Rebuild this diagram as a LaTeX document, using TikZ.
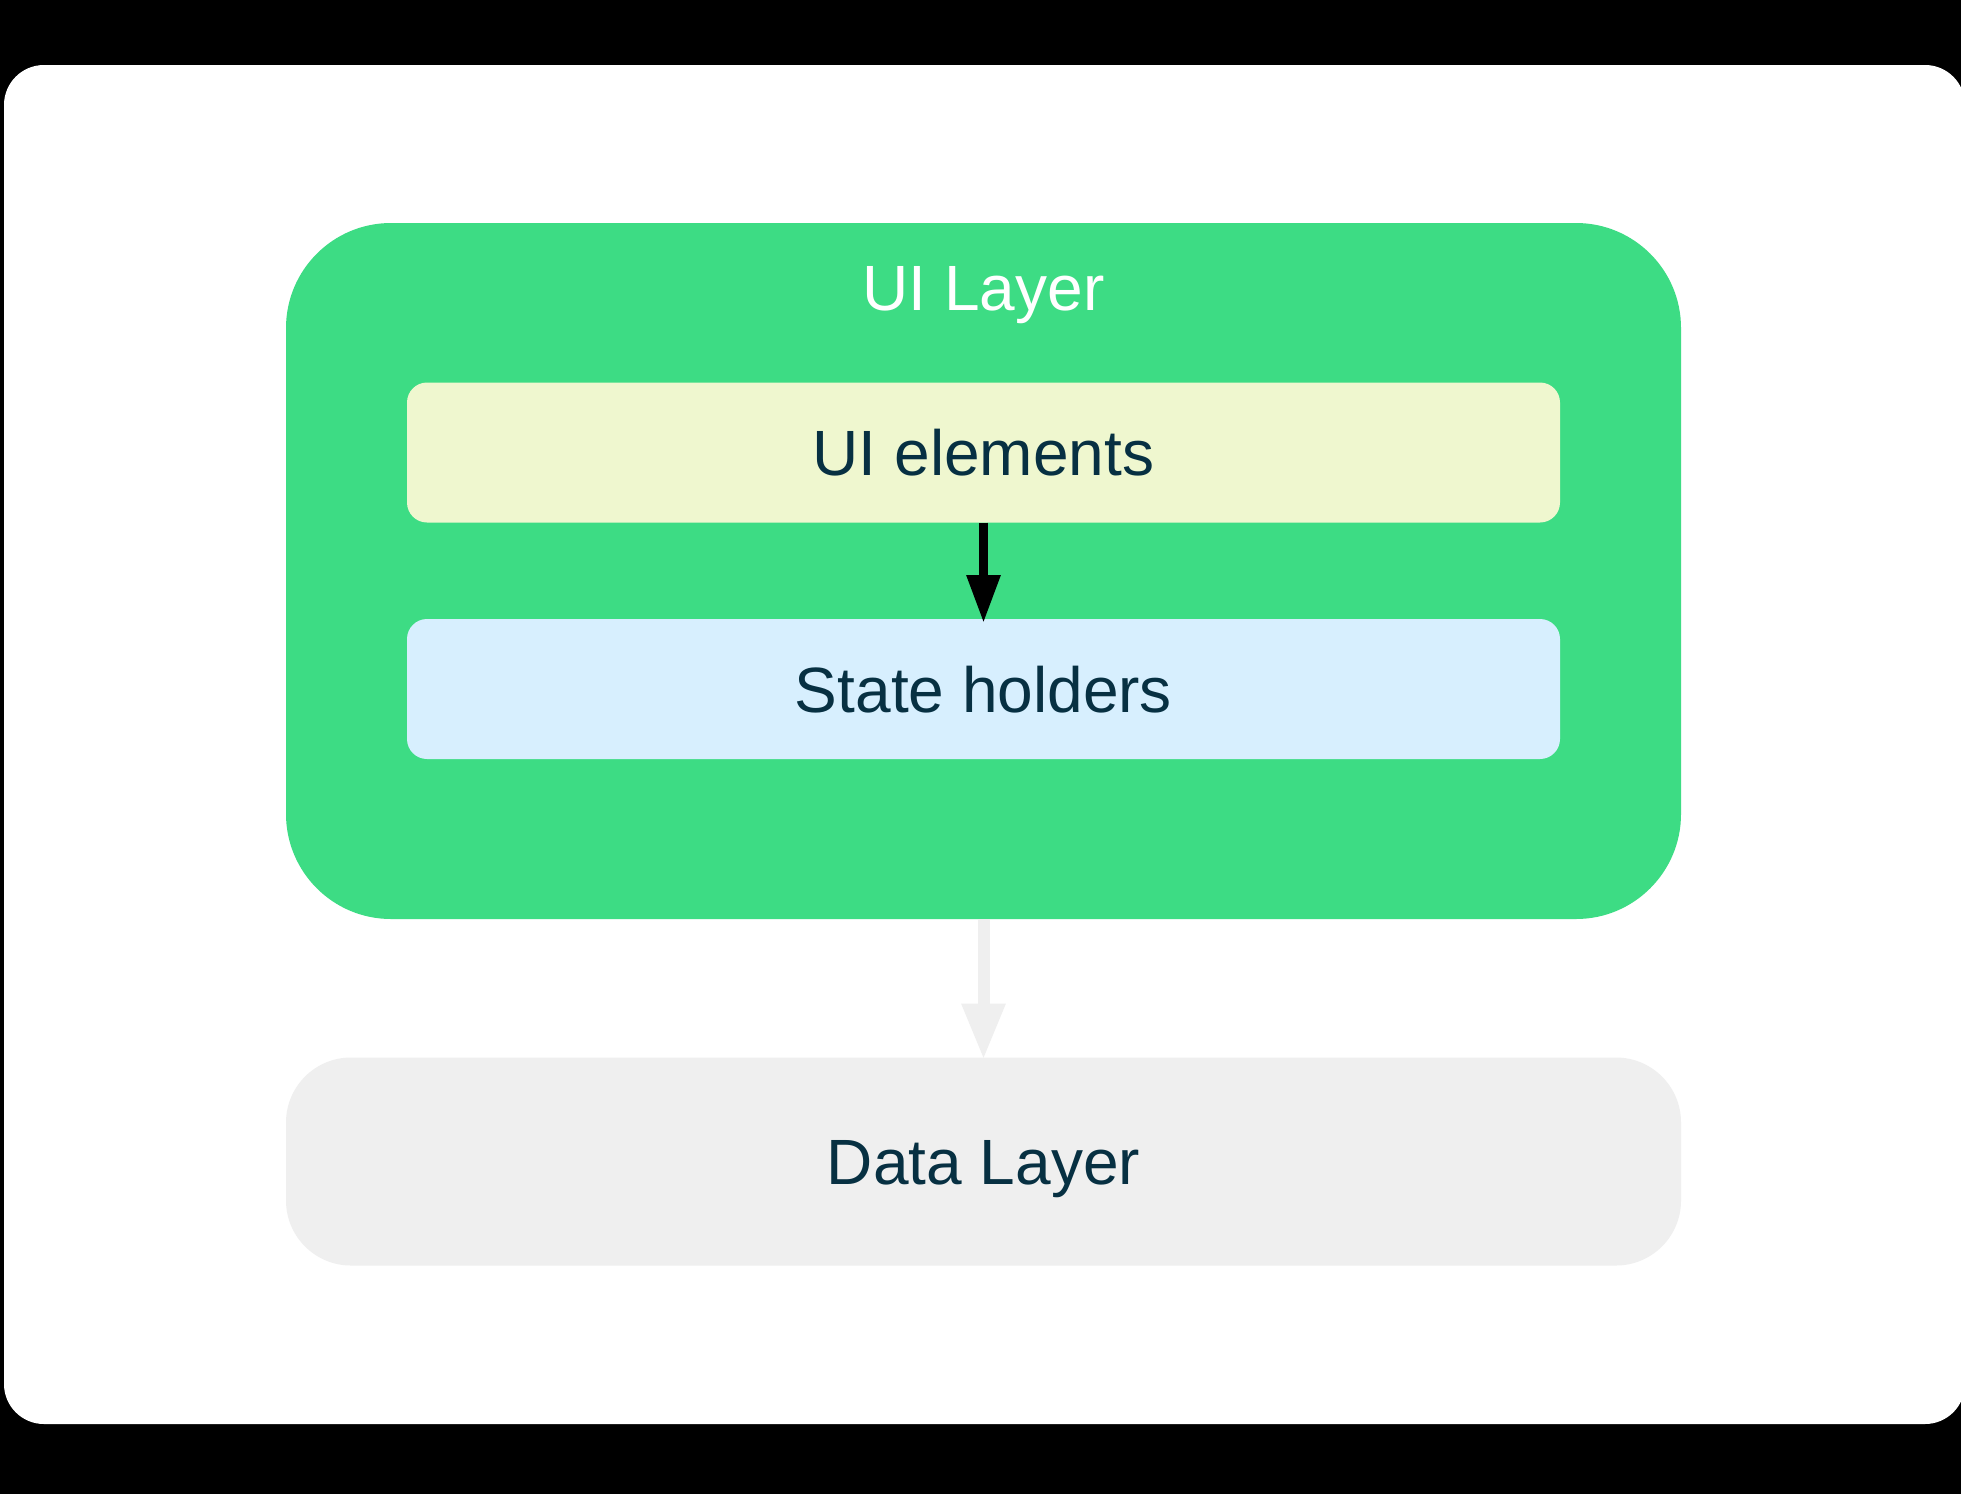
\documentclass[tikz,border=0pt]{standalone}
\usepackage{fontspec}
\setmainfont{Liberation Sans}
\usepackage{tikz}
\usetikzlibrary{arrows.meta, positioning}
\definecolor{colorG}{HTML}{3DDC84}
\definecolor{colorE}{HTML}{EFF7CF}
\definecolor{colorS}{HTML}{D7EFFE}
\definecolor{colorD}{HTML}{EFEFEF}
\definecolor{colorT}{HTML}{073042}

\begin{document}
\begin{tikzpicture}[x=1pt, y=-1pt,
        boxtext/.style={font=\fontsize{64}{77}\selectfont, text height=46pt, text depth=0pt, inner sep=0pt, outer sep=0pt},
        layerbox/.style={boxtext, draw=none, minimum width=1395pt},
        innerbox/.style={boxtext, draw=none, text=colorT, rounded corners=20pt, minimum width=1153pt, minimum height=140pt},
        flowarrow/.style={line width=9pt, shorten >=-4pt, -{Triangle[width=32pt, length=48pt]}},
        dataarrow/.style={draw=colorD, line width=12pt, shorten >=-2pt, -{Triangle[width=41pt, length=56pt]}}
    ]
        \useasboundingbox (0,0) rectangle (1961,1494);
        \clip (0,0) rectangle (1961,1494);
        \fill[black] (0,0) rectangle (1961,1494);
        \fill[white, rounded corners=40pt] (4,65) rectangle (1965,1424);

        \begin{scope}
            \node[layerbox, fill=colorG, rounded corners=105pt, minimum height=696pt] (uilayer) at (983.5,571) {};
            \node[boxtext, text=white] (uilabel) at (983.5,287.5) {UI Layer};
            \node[innerbox, fill=colorE] (uielements) at (983.5,452.5) {UI elements};
            \node[innerbox, fill=colorS] (stateholders) at (983.5,689) {State holders};
        \end{scope}

        \node[layerbox, fill=colorD, text=colorT, rounded corners=65pt, minimum height=208pt] (datalayer) at (983.5,1161.5) {Data Layer};

        \draw[flowarrow] (uielements) -- (stateholders);
        \draw[dataarrow] (uilayer) -- (datalayer);
    \end{tikzpicture}
\end{document}
